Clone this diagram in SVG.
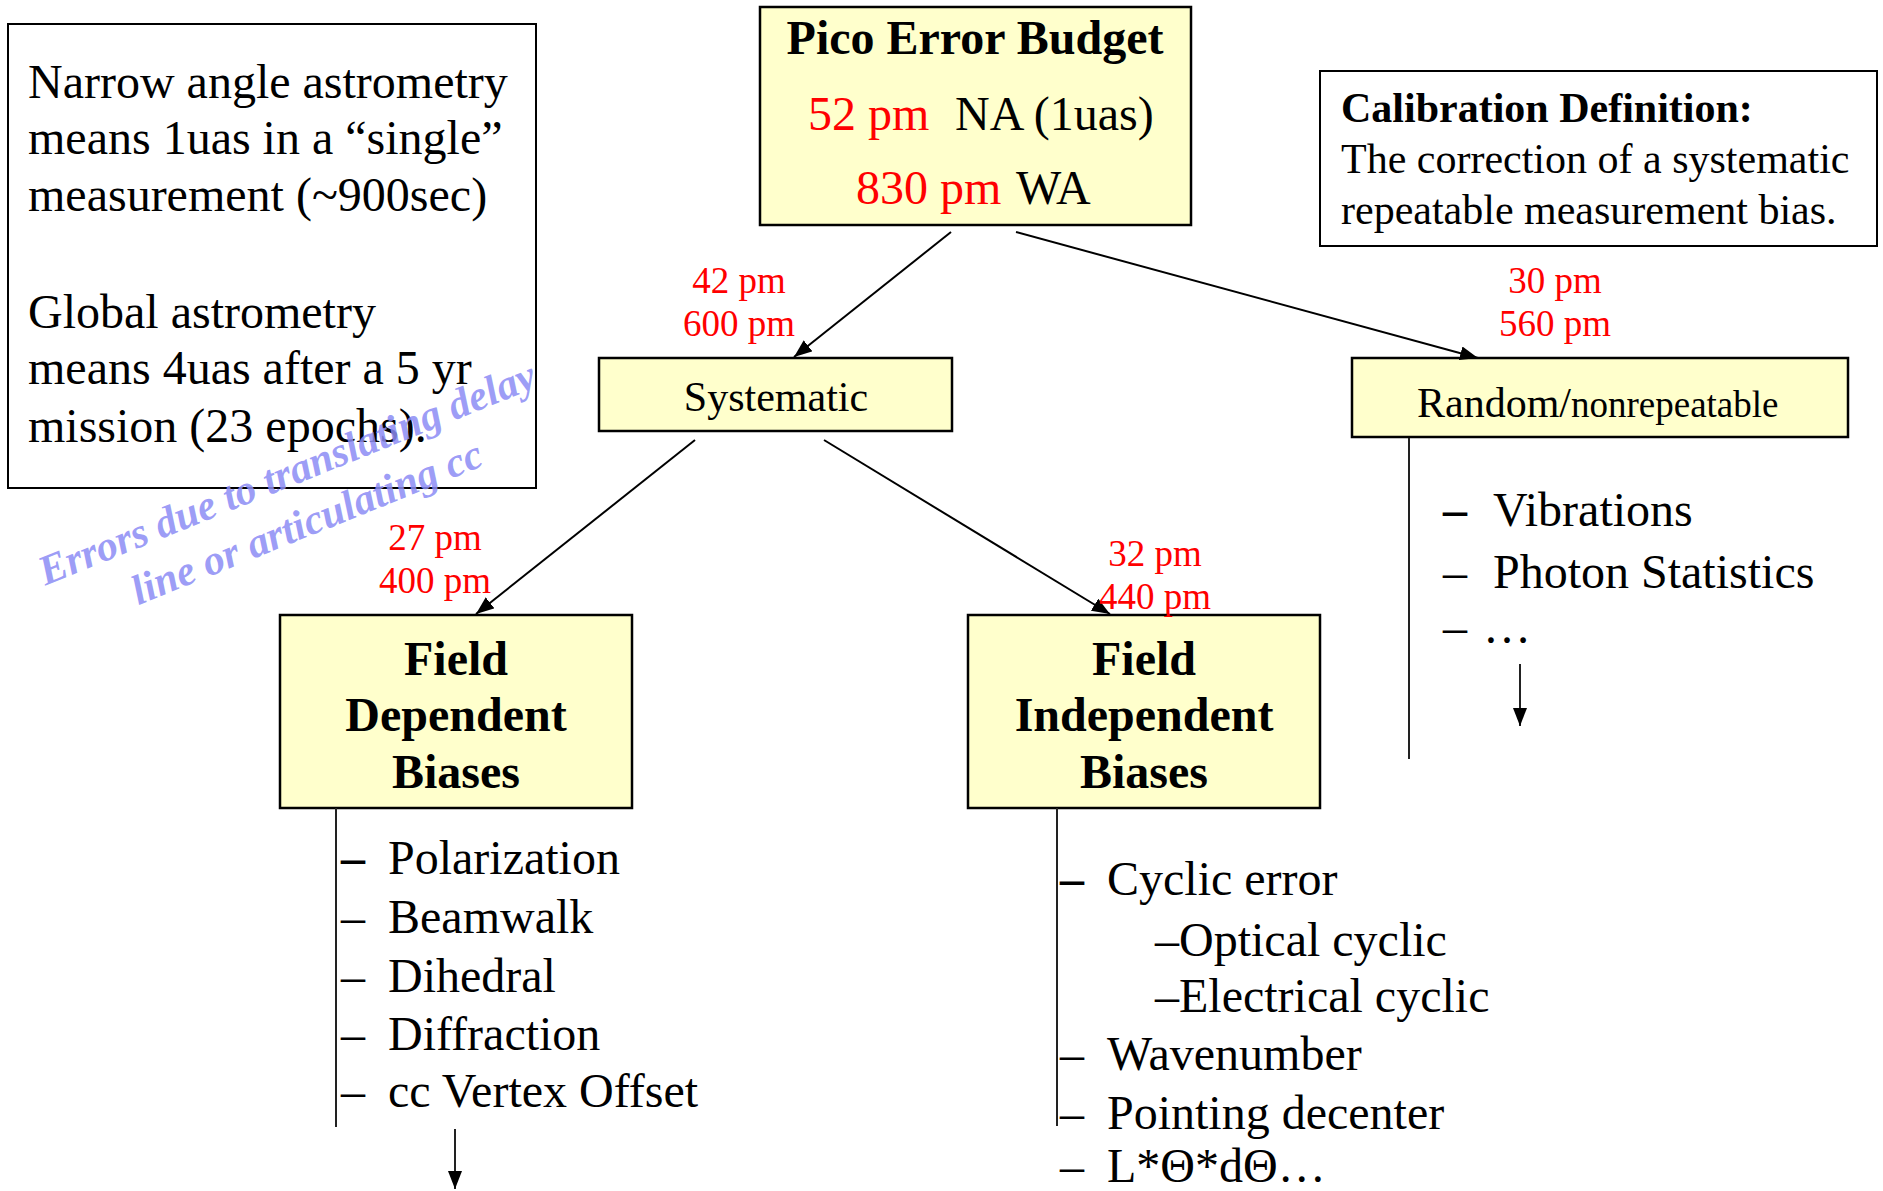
<svg xmlns="http://www.w3.org/2000/svg" width="1883" height="1191" viewBox="0 0 1883 1191">
<defs>
<marker id="ah" markerWidth="18" markerHeight="14" refX="18" refY="7" orient="auto" markerUnits="userSpaceOnUse" viewBox="0 0 18 14">
<path d="M0,0 L18,7 L0,14 Z" fill="#000"/>
</marker>
<style>
text{font-family:"Liberation Serif","Times New Roman",serif;fill:#000}
.box{fill:#FFFFCC;stroke:#000;stroke-width:2.5}
.note{fill:#fff;stroke:#000;stroke-width:2}
.red{fill:#FF0000}
.b{font-weight:bold}
.f48{font-size:48px}
.f42{font-size:42px}
.f37{font-size:37px}
.mid{text-anchor:middle}
.con{stroke:#000;stroke-width:2;fill:none}
.tree{stroke:#222;stroke-width:2;fill:none}
.wm{font-family:"Liberation Serif","Times New Roman",serif;font-style:italic;font-weight:bold;font-size:42px;fill:#8C8CF5;fill-opacity:0.85}
</style>
</defs>
<rect width="1883" height="1191" fill="#fff"/>

<g id="note-astrometry">
<rect class="note" x="8" y="24" width="528" height="464"/>
<text class="f48" x="28" y="98">Narrow angle astrometry</text>
<text class="f48" x="28" y="154">means 1uas in a “single”</text>
<text class="f48" x="28" y="211">measurement (~900sec)</text>
<text class="f48" x="28" y="328">Global astrometry</text>
<text class="f48" x="28" y="384">means 4uas after a 5 yr</text>
<text class="f48" x="28" y="442">mission (23 epochs).</text>
</g>

<g id="node-pico">
<rect class="box" x="760" y="7" width="431" height="218"/>
<text class="f48 b mid" x="975" y="54">Pico Error Budget</text>
<text class="f48" y="130"><tspan class="red" x="808">52 pm</tspan><tspan x="955">NA (1uas)</tspan></text>
<text class="f48" y="204"><tspan class="red" x="856">830 pm</tspan><tspan x="1016">WA</tspan></text>
</g>

<g id="note-calibration">
<rect class="note" x="1320" y="71" width="557" height="175"/>
<text class="f42 b" x="1341" y="122">Calibration Definition:</text>
<text class="f42" x="1341" y="173">The correction of a systematic</text>
<text class="f42" x="1341" y="224">repeatable measurement bias.</text>
</g>

<g id="node-systematic">
<rect class="box" x="599" y="358" width="353" height="73"/>
<text class="f42 mid" x="776" y="411">Systematic</text>
</g>

<g id="node-random">
<rect class="box" x="1352" y="358" width="496" height="79"/>
<text x="1417" y="417"><tspan class="f42">Random/</tspan><tspan style="font-size:37px">nonrepeatable</tspan></text>
</g>

<g id="node-field-dependent">
<rect class="box" x="280" y="615" width="352" height="193"/>
<text class="f48 b mid" x="456" y="675">Field</text>
<text class="f48 b mid" x="456" y="731">Dependent</text>
<text class="f48 b mid" x="456" y="788">Biases</text>
</g>

<g id="node-field-independent">
<rect class="box" x="968" y="615" width="352" height="193"/>
<text class="f48 b mid" x="1144" y="675">Field</text>
<text class="f48 b mid" x="1144" y="731">Independent</text>
<text class="f48 b mid" x="1144" y="788">Biases</text>
</g>

<g id="connectors">
<line class="con" x1="951" y1="232" x2="794" y2="357" marker-end="url(#ah)"/>
<line class="con" x1="1016" y1="232" x2="1478" y2="358" marker-end="url(#ah)"/>
<line class="con" x1="695" y1="440" x2="476" y2="614" marker-end="url(#ah)"/>
<line class="con" x1="824" y1="440" x2="1110" y2="614" marker-end="url(#ah)"/>
<text class="f37 red mid" x="739" y="293">42 pm</text>
<text class="f37 red mid" x="739" y="336">600 pm</text>
<text class="f37 red mid" x="1555" y="293">30 pm</text>
<text class="f37 red mid" x="1555" y="336">560 pm</text>
<text class="f37 red mid" x="435" y="550">27 pm</text>
<text class="f37 red mid" x="435" y="593">400 pm</text>
<text class="f37 red mid" x="1155" y="566">32 pm</text>
<text class="f37 red mid" x="1155" y="609">440 pm</text>
</g>

<g id="list-field-dependent">
<line class="tree" x1="336" y1="808" x2="336" y2="1127"/>
<line class="tree" x1="455" y1="1129" x2="455" y2="1189" marker-end="url(#ah)"/>
<text class="f48 b" x="341" y="874">–</text>
<text class="f48" x="341" y="933">–</text>
<text class="f48" x="341" y="992">–</text>
<text class="f48" x="341" y="1050">–</text>
<text class="f48" x="341" y="1107">–</text>
<text class="f48" x="388" y="874">Polarization</text>
<text class="f48" x="388" y="933">Beamwalk</text>
<text class="f48" x="388" y="992">Dihedral</text>
<text class="f48" x="388" y="1050">Diffraction</text>
<text class="f48" x="388" y="1107">cc Vertex Offset</text>
</g>

<g id="list-field-independent">
<line class="tree" x1="1057" y1="808" x2="1057" y2="1126"/>
<text class="f48 b" x="1060" y="895">–</text>
<text class="f48" x="1107" y="895">Cyclic error</text>
<text class="f48" x="1155" y="956">–Optical cyclic</text>
<text class="f48" x="1155" y="1012">–Electrical cyclic</text>
<text class="f48" x="1060" y="1070">–</text>
<text class="f48" x="1107" y="1070">Wavenumber</text>
<text class="f48" x="1060" y="1129">–</text>
<text class="f48" x="1107" y="1129">Pointing decenter</text>
<text class="f48" x="1060" y="1182">–</text>
<text class="f48" x="1107" y="1182">L*Θ*dΘ…</text>
</g>

<g id="list-random">
<line class="tree" x1="1409" y1="438" x2="1409" y2="759"/>
<line class="tree" x1="1520" y1="664" x2="1520" y2="726" marker-end="url(#ah)"/>
<text class="f48 b" x="1443" y="526">–</text>
<text class="f48" x="1493" y="526">Vibrations</text>
<text class="f48" x="1443" y="588">–</text>
<text class="f48" x="1493" y="588">Photon Statistics</text>
<text class="f48" x="1443" y="643">–</text>
<text class="f48" x="1483" y="643">…</text>
</g>

<g id="watermark">
<text class="wm mid" transform="rotate(-22 292 486)" x="292" y="486">Errors due to translating delay</text>
<text class="wm mid" transform="rotate(-22 292 486)" x="292" y="539">line or articulating cc</text>
</g>
</svg>
